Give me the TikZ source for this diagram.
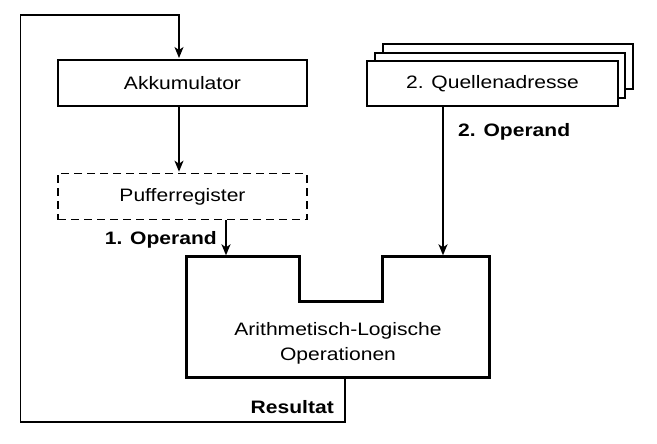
\documentclass[tikz,border=0pt]{standalone}
\usepackage{fontspec}
\setmainfont{Liberation Sans}[FakeStretch=1.17]
\usetikzlibrary{arrows.meta,calc}
\tikzset{
  box/.style={draw=black, line width=2pt, fill=white, minimum width=249pt, minimum height=46pt, inner sep=0pt, font=\fontsize{18pt}{22pt}\selectfont},
  dbox/.style={box, dash pattern=on 8pt off 5pt, line width=1.6pt},
  arr/.style={line width=1.4pt, -{Stealth[length=11pt,width=9pt,inset=3pt]}},
  lbl/.style={font=\bfseries\fontsize{18pt}{22pt}\selectfont, inner sep=0pt},
  alush/.style={line width=3pt, line join=miter},
}
\begin{document}
\begin{tikzpicture}[x=1pt,y=-1pt]
\useasboundingbox (0,0) rectangle (657,444);
% boxes
\node[box] (akku) at (182.5,83) {Akkumulator};
\node[dbox] (puffer) at (182.5,196.5) {Pufferregister};
\node[box, minimum width=250pt, minimum height=45pt] (q3) at (508,67) {};
\node[box, minimum width=250pt, minimum height=45pt] (q2) at (500,75.5) {};
\node[box, minimum width=251pt, minimum height=45pt] (q1) at (492.5,83.5) {2. Quellenadresse};
% ALU
\node[minimum width=302pt, minimum height=120pt, inner sep=0pt] (alu) at (338,317) {};
\draw[alush] (alu.north west) -- ($(alu.north west)+(113,0)$) -- ($(alu.north west)+(113,45)$)
  -- ($(alu.north west)+(196,45)$) -- ($(alu.north west)+(196,0)$) -- (alu.north east)
  -- (alu.south east) -- (alu.south west) -- cycle;
\node[align=center, font=\fontsize{18pt}{25pt}\selectfont, inner sep=0pt] (alutext) at (338,343) {Arithmetisch-Logische\\Operationen};
% waypoints of the feedback loop
\coordinate (lb) at (20.7,422);
\coordinate (lt) at (20.7,15);
% connectors
\draw[arr] ([xshift=7pt]alu.south) |- (lb) -- (lt) -| ([xshift=-3.5pt,yshift=1pt]akku.north);
\draw[arr] ([xshift=-3.5pt]akku.south) -- ([xshift=-3.5pt,yshift=1pt]puffer.north);
\draw[arr] ([xshift=43.5pt]puffer.south) -- ([xshift=43.5pt,yshift=1.5pt]puffer.south |- alu.north);
\draw[arr] ([xshift=-49.5pt]q1.south) -- ([xshift=-49.5pt,yshift=1.5pt]q1.south |- alu.north);
% labels
\node[lbl, anchor=base east] (op1) at (217,244) {1. Operand};
\node[lbl, anchor=base west] (op2) at (458,137) {2. Operand};
\node[lbl, anchor=base east] (res) at (334,413) {Resultat};
\end{tikzpicture}
\end{document}
